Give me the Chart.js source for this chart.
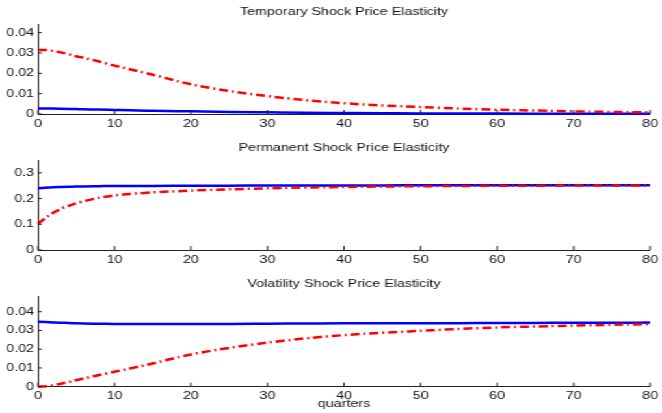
<!DOCTYPE html>
<html lang="en">
<head>
<meta charset="utf-8">
<title>Shock Price Elasticity</title>
<script src="https://cdn.jsdelivr.net/npm/chart.js@4.4.1/dist/chart.umd.min.js"></script>
<style>
html, body { margin: 0; padding: 0; background: #fff; }
/* the original figure is stretched sideways, so the charts are drawn narrow and widened */
#stage { position: absolute; left: 0; top: 0; width: 509px; height: 413px; transform: scaleX(1.3006); transform-origin: 0 0; }
.panel { position: absolute; left: 0; }
</style>
</head>
<body>
<div id="stage">
  <canvas class="panel" id="tempChart" width="509" height="134" style="top:0px;width:509px;height:134px"></canvas>
  <canvas class="panel" id="permChart" width="509" height="134" style="top:136px;width:509px;height:134px"></canvas>
  <canvas class="panel" id="volChart" width="509" height="141" style="top:272px;width:509px;height:141px"></canvas>
</div>
<script>
const quarters = [0, 1, 2, 3, 4, 5, 6, 8, 10, 12, 15, 20, 25, 30, 35, 40, 45, 50, 55, 60, 65, 70, 75, 80];
const xTicks = [0, 10, 20, 30, 40, 50, 60, 70, 80];

// temporary shock
const tempBlue = [0.0028, 0.0027, 0.0027, 0.0026, 0.0025, 0.0024, 0.0023, 0.0022, 0.0020, 0.0018, 0.0016, 0.0013, 0.0010, 0.0008, 0.0006, 0.0005, 0.0004, 0.0003, 0.00025, 0.0002, 0.00015, 0.0001, 0.0001, 0.0001];
const tempRed  = [0.0315, 0.0315, 0.0310, 0.0303, 0.0294, 0.0284, 0.0276, 0.0258, 0.0238, 0.0220, 0.0193, 0.0146, 0.0113, 0.0088, 0.0068, 0.0053, 0.0042, 0.0034, 0.0027, 0.0021, 0.0017, 0.0013, 0.0010, 0.0008];

// permanent shock
const permBlue = [0.240, 0.242, 0.244, 0.245, 0.246, 0.247, 0.247, 0.248, 0.249, 0.249, 0.249, 0.250, 0.250, 0.251, 0.251, 0.251, 0.251, 0.252, 0.252, 0.252, 0.252, 0.252, 0.252, 0.252];
const permRed  = [0.102, 0.125, 0.145, 0.160, 0.172, 0.182, 0.190, 0.203, 0.212, 0.218, 0.224, 0.231, 0.236, 0.240, 0.243, 0.245, 0.247, 0.248, 0.249, 0.250, 0.250, 0.251, 0.251, 0.251];

// volatility shock
const volBlue = [0.0347, 0.0345, 0.0343, 0.0341, 0.0340, 0.0338, 0.0337, 0.0336, 0.0335, 0.0335, 0.0335, 0.0335, 0.0335, 0.0336, 0.0337, 0.0338, 0.0338, 0.0339, 0.0339, 0.0340, 0.0340, 0.0341, 0.0341, 0.0342];
const volRed  = [0.0000, 0.0002, 0.0008, 0.0016, 0.0025, 0.0035, 0.0044, 0.0062, 0.0080, 0.0097, 0.0124, 0.0172, 0.0207, 0.0235, 0.0258, 0.0275, 0.0288, 0.0298, 0.0308, 0.0316, 0.0321, 0.0326, 0.0330, 0.0334];

const textColor = '#111';
const axisColor = '#222';
const fontFamily = '"Liberation Sans", Arial, Helvetica, sans-serif';

// MATLAB style tick marks pointing into the plot
const innerTicks = {
    id: 'innerTicks',
    afterDraw(chart) {
        const {ctx, chartArea, scales} = chart;
        ctx.save();
        ctx.strokeStyle = axisColor;
        ctx.lineWidth = 1;
        ctx.beginPath();
        scales.x.ticks.forEach(t => {
            const px = scales.x.getPixelForValue(t.value);
            ctx.moveTo(px, chartArea.bottom);
            ctx.lineTo(px, chartArea.bottom - 4);
        });
        scales.y.ticks.forEach(t => {
            const py = scales.y.getPixelForValue(t.value);
            ctx.moveTo(chartArea.left, py);
            ctx.lineTo(chartArea.left + 3, py);
        });
        ctx.stroke();
        ctx.restore();
    }
};

function toPoints(values){
    return values.map((v, i) => ({x: quarters[i], y: v}));
}

function makePanel(id, title, blue, red, yMax, yStep, opts){
    const ctx = document.getElementById(id).getContext('2d');
    return new Chart(ctx, {
        type: 'line',
        data: {
            datasets: [{
                data: toPoints(red),
                borderColor: '#ff0000',
                borderWidth: 2.5,
                borderDash: [7, 3, 1.5, 3],
                pointRadius: 0,
                cubicInterpolationMode: 'monotone',
                clip: false
            },{
                data: toPoints(blue),
                borderColor: '#0000ff',
                borderWidth: 2.5,
                pointRadius: 0,
                cubicInterpolationMode: 'monotone',
                clip: false
            }]
        },
        options: {
            responsive: false,
            animation: false,
            layout: { padding: { left: 0, right: 7.7, top: 0, bottom: 0 } },
            plugins: {
                legend: { display: false },
                tooltip: { enabled: false },
                title: {
                    display: true,
                    text: title,
                    fullSize: false,
                    color: textColor,
                    font: { family: fontFamily, size: 11, weight: 'normal', lineHeight: 1 },
                    padding: { top: 6.5, bottom: opts.titleGap }
                }
            },
            scales: {
                x: {
                    type: 'linear',
                    min: 0,
                    max: 80,
                    afterBuildTicks: scale => { scale.ticks = xTicks.map(v => ({value: v})); },
                    grid: { drawOnChartArea: false, drawTicks: false },
                    border: { color: axisColor, width: 1 },
                    ticks: { color: textColor, padding: 3, maxRotation: 0, font: { family: fontFamily, size: 11 } },
                    title: {
                        display: !!opts.xTitle,
                        text: opts.xTitle || '',
                        color: textColor,
                        font: { family: fontFamily, size: 11, lineHeight: 1 },
                        padding: { top: 0, bottom: 3.5 }
                    },
                    afterFit: scale => { scale.height = opts.xHeight; }
                },
                y: {
                    min: 0,
                    max: yMax,
                    grid: { drawOnChartArea: false, drawTicks: false },
                    border: { color: axisColor, width: 1 },
                    ticks: {
                        stepSize: yStep,
                        includeBounds: false,
                        color: textColor,
                        padding: 3,
                        font: { family: fontFamily, size: 11 },
                        callback: v => String(Number(v.toFixed(3)))
                    },
                    afterFit: scale => { scale.width = 29.2; }
                }
            }
        },
        plugins: [innerTicks]
    });
}

makePanel('tempChart', 'Temporary Shock Price Elasticity', tempBlue, tempRed, 0.044, 0.01, { titleGap: 7, xHeight: 20 });
makePanel('permChart', 'Permanent Shock Price Elasticity', permBlue, permRed, 0.35, 0.1, { titleGap: 6.5, xHeight: 20 });
makePanel('volChart', 'Volatility Shock Price Elasticity', volBlue, volRed, 0.048, 0.01, { titleGap: 7.2, xHeight: 26.3, xTitle: 'quarters' });
</script>
</body>
</html>
